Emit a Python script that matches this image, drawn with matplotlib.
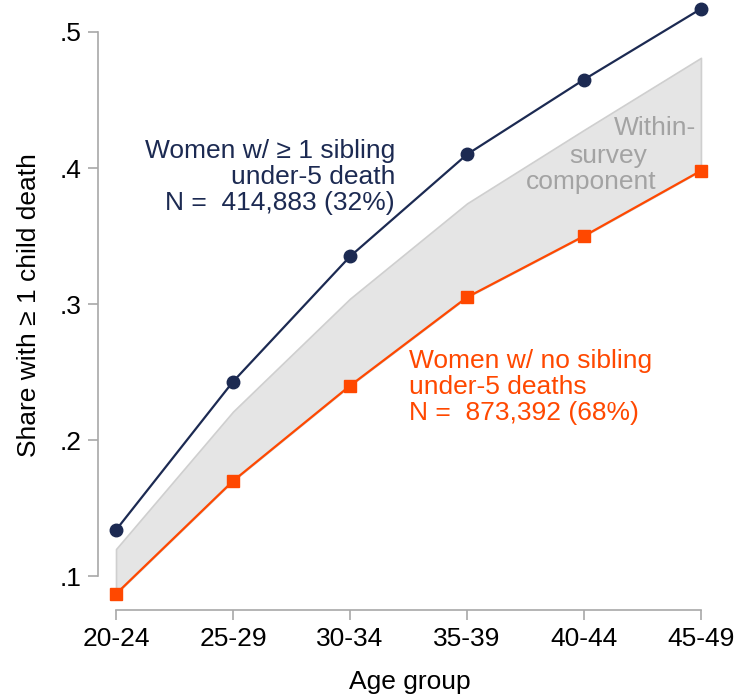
import matplotlib
matplotlib.use("Agg")
import matplotlib.pyplot as plt
import numpy as np

plt.rcParams['font.family'] = ['Liberation Sans', 'DejaVu Sans']

age_groups = ["20-24", "25-29", "30-34", "35-39", "40-44", "45-49"]
sibling_death = [0.134, 0.243, 0.335, 0.410, 0.465, 0.517]
no_sibling_death = [0.087, 0.170, 0.240, 0.305, 0.350, 0.398]
within_upper = [0.120, 0.221, 0.304, 0.374, 0.428, 0.481]
y_ticks = [0.1, 0.2, 0.3, 0.4, 0.5]
y_tick_labels = [".1", ".2", ".3", ".4", ".5"]

navy = "#1c2a52"
orange = "#ff4800"
spine_grey = "#a8a8a8"
FS = 19

W, H = 735, 694
fig = plt.figure(figsize=(W / 100, H / 100), dpi=100)
ax = fig.add_axes([98 / W, (H - 610) / H, (722 - 98) / W, 610 / H])

x = np.arange(len(age_groups))
ax.fill_between(x, no_sibling_death, within_upper, facecolor="#e5e5e5",
                edgecolor="#cfcfcf", linewidth=1.2, zorder=1)
ax.plot(x, sibling_death, color=navy, lw=1.6, marker="o", ms=9, zorder=3)
ax.plot(x, no_sibling_death, color=orange, lw=1.6, marker="s", ms=8, zorder=3)

ax.set_xlim(-0.154, 5.18)
ax.set_ylim(0.0752, 0.5235)

for s in ["top", "right"]:
    ax.spines[s].set_visible(False)
ax.spines["left"].set_bounds(0.1, 0.5)
ax.spines["bottom"].set_bounds(0, 5)
for s in ["left", "bottom"]:
    ax.spines[s].set_color(spine_grey)
    ax.spines[s].set_linewidth(1.2)

ax.set_xticks(x)
ax.set_xticklabels(age_groups)
ax.set_yticks(y_ticks)
ax.set_yticklabels(y_tick_labels)
ax.tick_params(axis="both", colors=spine_grey, labelcolor="black",
               labelsize=FS, length=7, width=1.2)
ax.tick_params(axis="x", pad=5)
ax.tick_params(axis="y", pad=5)

ax.set_xlabel("Age group", fontsize=FS, labelpad=14)
ax.set_ylabel("Share with \u2265 1 child death", fontsize=FS, labelpad=13)

def px2data(px, py):
    inv = ax.transData.inverted()
    return inv.transform(fig.transFigure.transform((px / W, 1 - py / H)))

ax.text(*px2data(395, 177), "Women w/ \u2265 1 sibling\nunder-5 death\nN =  414,883 (32%)",
        color=navy, fontsize=FS, ha="right", va="center", linespacing=1.08)
ax.text(*px2data(409, 387), "Women w/ no sibling\nunder-5 deaths\nN =  873,392 (68%)",
        color=orange, fontsize=FS, ha="left", va="center", linespacing=1.08)
grey_txt = "#a3a3a3"
ax.text(*px2data(655, 128), "Within-", color=grey_txt, fontsize=FS, ha="center", va="center")
ax.text(*px2data(608, 156), "survey", color=grey_txt, fontsize=FS, ha="center", va="center")
ax.text(*px2data(591, 182), "component", color=grey_txt, fontsize=FS, ha="center", va="center")

fig.savefig("out.png", dpi=100)
